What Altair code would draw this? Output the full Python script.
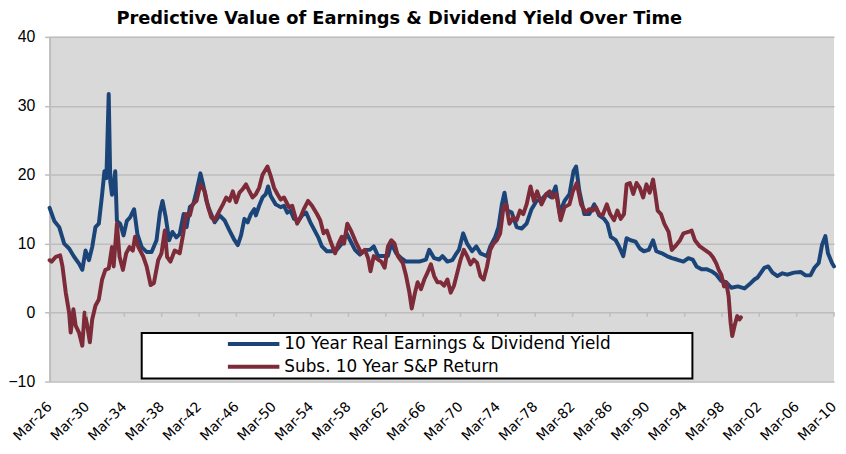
import altair as alt
import pandas as pd

# ---- data ----
blue_year = [1926.17, 1926.67, 1927.20, 1927.73, 1928.26, 1928.79, 1929.32, 1929.67, 1930.02, 1930.38,
             1930.73, 1931.08, 1931.44, 1931.79, 1932.04, 1932.25, 1932.50, 1932.67, 1932.85, 1933.20,
             1933.38, 1933.73, 1934.09, 1934.44, 1934.79, 1935.22, 1935.57, 1936.03, 1936.56, 1937.09,
             1937.62, 1937.98, 1938.26, 1938.61, 1938.97, 1939.32, 1939.74, 1940.10, 1940.52, 1940.84,
             1941.19, 1941.55, 1941.90, 1942.32, 1942.61, 1942.96, 1943.31, 1943.84, 1944.37, 1944.90,
             1945.44, 1945.97, 1946.32, 1946.67, 1947.03, 1947.38, 1947.73, 1948.09, 1948.26, 1948.61,
             1948.97, 1949.32, 1949.57, 1949.85, 1950.38, 1950.91, 1951.27, 1951.62, 1951.97, 1952.33,
             1952.86, 1953.21, 1953.64, 1954.09, 1954.63, 1954.98, 1955.33, 1955.86, 1956.39, 1956.92,
             1957.45, 1957.98, 1958.34, 1958.87, 1959.40, 1959.93, 1960.46, 1960.88, 1961.34, 1961.87,
             1962.40, 1962.76, 1963.29, 1963.82, 1964.35, 1965.05, 1965.76, 1966.47, 1966.82, 1967.35,
             1967.88, 1968.24, 1968.77, 1969.29, 1969.65, 1970.00, 1970.46, 1970.88, 1971.41, 1971.87,
             1972.30, 1972.65, 1973.01, 1973.36, 1973.89, 1974.24, 1974.60, 1974.88, 1975.20, 1975.66,
             1976.19, 1976.72, 1977.25, 1977.78, 1978.31, 1978.84, 1979.37, 1979.90, 1980.36, 1980.78,
             1981.31, 1981.84, 1982.27, 1982.55, 1982.90, 1983.43, 1983.96, 1984.49, 1985.02, 1985.55,
             1985.91, 1986.26, 1986.79, 1987.14, 1987.60, 1987.96, 1988.38, 1988.91, 1989.37, 1989.80,
             1990.33, 1990.79, 1991.14, 1991.74, 1992.27, 1992.80, 1993.33, 1994.04, 1994.57, 1995.03,
             1995.45, 1995.98, 1996.51, 1997.04, 1997.57, 1998.10, 1998.63, 1999.16, 1999.87, 2000.58,
             2001.11, 2001.64, 2001.99, 2002.35, 2002.70, 2003.12, 2003.58, 2004.11, 2004.64, 2005.17,
             2005.88, 2006.59, 2007.12, 2007.64, 2008.07, 2008.53, 2008.88, 2009.24, 2009.52, 2009.95,
             2010.17]
blue_val = [15.2, 13.3, 12.4, 10.0, 9.3, 8.1, 7.1, 6.2, 9.0, 7.6,
            9.5, 12.4, 12.9, 17.1, 20.5, 19.5, 31.7, 19.0, 17.1, 20.5,
            13.3, 12.9, 11.2, 13.3, 13.8, 15.0, 11.4, 9.5, 8.8, 8.8,
            10.5, 14.5, 16.2, 13.8, 10.5, 11.7, 10.9, 11.4, 14.3, 12.4,
            15.3, 15.7, 17.6, 20.2, 18.6, 16.2, 14.8, 13.1, 14.1, 13.4,
            11.9, 10.5, 9.8, 11.2, 13.6, 13.1, 14.3, 15.0, 14.1, 15.5,
            16.7, 17.2, 18.3, 16.9, 15.7, 15.3, 15.5, 14.5, 14.8, 13.6,
            13.4, 14.1, 14.5, 13.1, 11.7, 10.8, 9.6, 8.9, 8.9, 9.1,
            10.0, 11.5, 10.5, 9.1, 8.4, 9.1, 9.1, 9.6, 8.2, 8.2,
            8.2, 10.0, 8.6, 7.9, 7.4, 7.4, 7.4, 7.7, 9.1, 7.9,
            7.7, 8.2, 7.4, 7.6, 8.4, 9.1, 11.5, 10.0, 8.9, 9.6,
            8.6, 8.4, 8.2, 9.6, 11.0, 12.4, 15.7, 17.4, 14.8, 14.5,
            12.4, 12.2, 12.9, 15.0, 16.2, 16.4, 17.2, 16.7, 18.3, 14.5,
            16.2, 17.2, 20.5, 21.2, 17.6, 14.3, 14.3, 15.7, 14.1, 13.6,
            12.9, 11.0, 10.5, 9.6, 8.2, 10.8, 10.5, 10.3, 9.3, 8.9,
            9.1, 10.5, 8.9, 8.6, 8.2, 7.9, 7.7, 7.4, 7.9, 7.7,
            6.7, 6.3, 6.3, 6.0, 5.5, 4.6, 4.4, 3.6, 3.8, 3.5,
            4.1, 4.8, 5.1, 5.8, 6.5, 6.7, 5.8, 5.3, 5.7, 5.5,
            5.8, 5.9, 5.4, 5.4, 6.5, 7.2, 9.8, 11.1, 8.6, 7.2,
            6.7]

red_year = [1926.17, 1926.38, 1926.84, 1927.30, 1927.55, 1927.90, 1928.26, 1928.43, 1928.72, 1928.96,
            1929.32, 1929.67, 1929.92, 1930.20, 1930.48, 1930.73, 1931.08, 1931.44, 1931.79, 1932.14,
            1932.50, 1932.85, 1933.03, 1933.38, 1933.66, 1934.02, 1934.37, 1934.72, 1935.08, 1935.32,
            1935.68, 1936.21, 1936.56, 1936.99, 1937.34, 1937.80, 1938.15, 1938.51, 1938.75, 1939.11,
            1939.57, 1940.10, 1940.49, 1940.77, 1941.19, 1941.48, 1941.90, 1942.32, 1942.78, 1943.14,
            1943.49, 1943.84, 1944.37, 1944.73, 1945.08, 1945.44, 1945.79, 1946.14, 1946.50, 1946.85,
            1947.20, 1947.56, 1947.91, 1948.26, 1948.61, 1948.97, 1949.50, 1949.85, 1950.21, 1950.56,
            1950.91, 1951.27, 1951.80, 1952.15, 1952.68, 1953.03, 1953.39, 1953.85, 1954.27, 1954.80,
            1955.15, 1955.51, 1955.86, 1956.21, 1956.74, 1957.10, 1957.45, 1957.70, 1958.05, 1958.51,
            1959.04, 1959.57, 1959.93, 1960.28, 1960.53, 1960.88, 1961.34, 1961.69, 1962.05, 1962.40,
            1962.76, 1963.11, 1963.46, 1963.99, 1964.35, 1964.70, 1964.95, 1965.30, 1965.58, 1965.94,
            1966.29, 1966.64, 1967.00, 1967.35, 1967.70, 1968.06, 1968.41, 1968.77, 1969.12, 1969.47,
            1969.83, 1970.18, 1970.53, 1970.88, 1971.24, 1971.59, 1971.95, 1972.30, 1972.65, 1973.01,
            1973.36, 1973.71, 1974.07, 1974.42, 1974.77, 1975.06, 1975.41, 1975.83, 1976.19, 1976.54,
            1976.89, 1977.25, 1977.67, 1978.03, 1978.38, 1978.84, 1979.37, 1979.72, 1980.08, 1980.43,
            1980.89, 1981.31, 1981.84, 1982.20, 1982.62, 1983.08, 1983.61, 1983.96, 1984.32, 1984.67,
            1985.02, 1985.38, 1985.84, 1986.19, 1986.61, 1986.97, 1987.32, 1987.68, 1987.96, 1988.31,
            1988.67, 1989.02, 1989.37, 1989.73, 1990.08, 1990.43, 1990.79, 1991.03, 1991.28, 1991.64,
            1991.99, 1992.45, 1992.80, 1993.15, 1993.68, 1994.04, 1994.57, 1994.92, 1995.27, 1995.80,
            1996.33, 1996.86, 1997.22, 1997.57, 1997.82, 1998.10, 1998.39, 1998.63, 1998.88, 1999.09,
            1999.27, 1999.52, 1999.80, 2000.05, 2000.20]
red_val = [7.6, 7.4, 8.1, 8.3, 6.7, 2.9, 0.0, -2.9, 0.5, -1.9,
           -2.9, -4.8, 0.0, -1.9, -4.3, -1.0, 1.0, 1.9, 4.8, 6.2,
           6.4, 9.5, 6.7, 12.9, 8.1, 6.2, 8.6, 9.5, 9.0, 11.0,
           9.5, 8.1, 6.7, 4.0, 4.3, 7.6, 8.6, 11.9, 8.1, 7.4,
           9.0, 8.6, 11.5, 14.3, 14.1, 15.7, 16.2, 18.6, 17.6, 15.3,
           13.8, 13.4, 14.8, 15.7, 16.7, 16.2, 17.6, 16.0, 17.4, 17.9,
           18.6, 17.6, 16.7, 17.2, 18.1, 20.0, 21.2, 19.8, 18.1, 17.2,
           16.4, 16.7, 15.3, 15.5, 12.9, 13.8, 15.0, 16.2, 15.5, 14.3,
           13.4, 11.5, 11.9, 10.5, 8.6, 10.0, 11.0, 10.0, 12.9, 11.7,
           10.0, 8.6, 9.1, 7.9, 6.0, 8.2, 7.7, 7.4, 6.5, 9.6,
           10.5, 10.0, 8.2, 7.2, 5.3, 2.9, 0.6, 2.9, 4.4, 3.4,
           4.8, 5.8, 7.0, 5.3, 4.4, 4.4, 3.9, 4.8, 2.9, 3.9,
           5.8, 7.7, 9.1, 8.2, 7.0, 7.7, 7.2, 5.3, 4.8, 6.7,
           9.1, 10.0, 10.5, 11.5, 15.3, 15.7, 12.9, 13.8, 13.4, 14.8,
           14.3, 15.7, 18.3, 16.2, 17.6, 15.7, 17.2, 17.6, 16.7, 17.2,
           13.4, 15.3, 15.7, 17.6, 18.8, 15.7, 14.5, 15.0, 14.8, 15.3,
           14.3, 14.1, 15.7, 14.3, 13.4, 14.8, 13.6, 14.3, 18.6, 18.8,
           17.2, 18.8, 18.1, 16.7, 18.6, 17.4, 19.3, 17.2, 14.8, 14.3,
           12.9, 11.7, 9.1, 9.6, 10.5, 11.5, 11.7, 11.9, 10.5, 9.6,
           9.1, 8.6, 8.0, 7.1, 6.2, 5.5, 3.8, 4.3, 2.4, -1.4,
           -3.4, -1.9, -0.5, -1.0, -0.7]

series_names = ["10 Year Real Earnings & Dividend Yield", "Subs. 10 Year S&P Return"]
series_colors = ["#1B4579", "#7D2B38"]

tick_years = [1926.17, 1930.17, 1934.17, 1938.17, 1942.17, 1946.17, 1950.17, 1954.17,
              1958.17, 1962.17, 1966.17, 1970.17, 1974.17, 1978.17, 1982.17, 1986.17,
              1990.17, 1994.17, 1998.17, 2002.17, 2006.17, 2010.17]
tick_labels = ["Mar-26", "Mar-30", "Mar-34", "Mar-38", "Mar-42", "Mar-46", "Mar-50", "Mar-54",
               "Mar-58", "Mar-62", "Mar-66", "Mar-70", "Mar-74", "Mar-78", "Mar-82", "Mar-86",
               "Mar-90", "Mar-94", "Mar-98", "Mar-02", "Mar-06", "Mar-10"]
y_ticks = [-10, 0, 10, 20, 30, 40]

title_text = "Predictive Value of Earnings & Dividend Yield Over Time"

# ---- tables ----
df = pd.concat([
    pd.DataFrame({"year": blue_year, "value": blue_val, "series": series_names[0]}),
    pd.DataFrame({"year": red_year, "value": red_val, "series": series_names[1]}),
], ignore_index=True)
ticks_df = pd.DataFrame({"year": tick_years})

label_list = "[" + ",".join("'%s'" % t for t in tick_labels) + "]"
label_expr = f"{label_list}[round((datum.value - {tick_years[0]}) / 4)]"

xs = alt.Scale(domain=[tick_years[0], tick_years[-1]], nice=False, zero=False)
ys = alt.Scale(domain=[y_ticks[0], y_ticks[-1]], nice=False, zero=False)

GRID = "#bdbdbd"

x_axis = alt.Axis(
    values=tick_years, labelExpr=label_expr, labelAngle=-45,
    labelFont="DejaVu Sans", labelFontSize=14, labelColor="black",
    ticks=False, domain=False, grid=False, title=None, labelPadding=18, labelOffset=-5,
    labelOverlap=False, labelBound=False, labelFlush=False)
y_axis = alt.Axis(
    values=y_ticks, grid=True, gridColor=GRID, gridWidth=1.5,
    domainColor=GRID, domainWidth=2, tickColor=GRID, tickSize=5, tickWidth=1.5,
    labelFont="Liberation Sans", labelFontSize=16, labelColor="black",
    labelPadding=10, title=None)

lines = alt.Chart(df).mark_line(strokeWidth=4, strokeJoin="round", strokeCap="round").encode(
    x=alt.X("year:Q", scale=xs, axis=x_axis),
    y=alt.Y("value:Q", scale=ys, axis=y_axis),
    color=alt.Color("series:N", scale=alt.Scale(domain=series_names, range=series_colors), legend=None),
)

zero_ticks = alt.Chart(ticks_df).mark_rule(color=GRID, strokeWidth=1.5).encode(
    x=alt.X("year:Q", scale=xs, axis=x_axis),
    y=alt.datum(0),
    y2=alt.datum(-0.6),
)

one = alt.Data(values=[{"k": 1}])
legend_box = alt.Chart(one).mark_rect(fill="white", stroke="black", strokeWidth=2).encode(
    x=alt.value(93), x2=alt.value(649), y=alt.value(299), y2=alt.value(345))

legend_layers = []
for i, (name, col) in enumerate(zip(series_names, series_colors)):
    yy = 310 + i * 23
    legend_layers.append(alt.Chart(one).mark_rule(color=col, strokeWidth=4).encode(
        x=alt.value(180), x2=alt.value(232), y=alt.value(yy)))
    legend_layers.append(alt.Chart(one).mark_text(
        align="left", baseline="middle", font="DejaVu Sans", fontSize=17, color="black").encode(
        x=alt.value(237), y=alt.value(yy), text=alt.value(name)))

chart = alt.layer(lines, zero_ticks, legend_box, *legend_layers).properties(
    width=792, height=348,
    padding={"left": 42, "top": 27, "right": 4, "bottom": 70},
    autosize=alt.AutoSizeParams(type="none"),
    title=alt.TitleParams(title_text, font="DejaVu Sans", fontSize=18, fontWeight="bold",
                          color="black", anchor="middle", dx=-43, offset=1),
).configure(background="white").configure_view(fill="#d9d9d9", stroke=None)

chart.save("out.html", embed_options={"renderer": "svg", "actions": False})
